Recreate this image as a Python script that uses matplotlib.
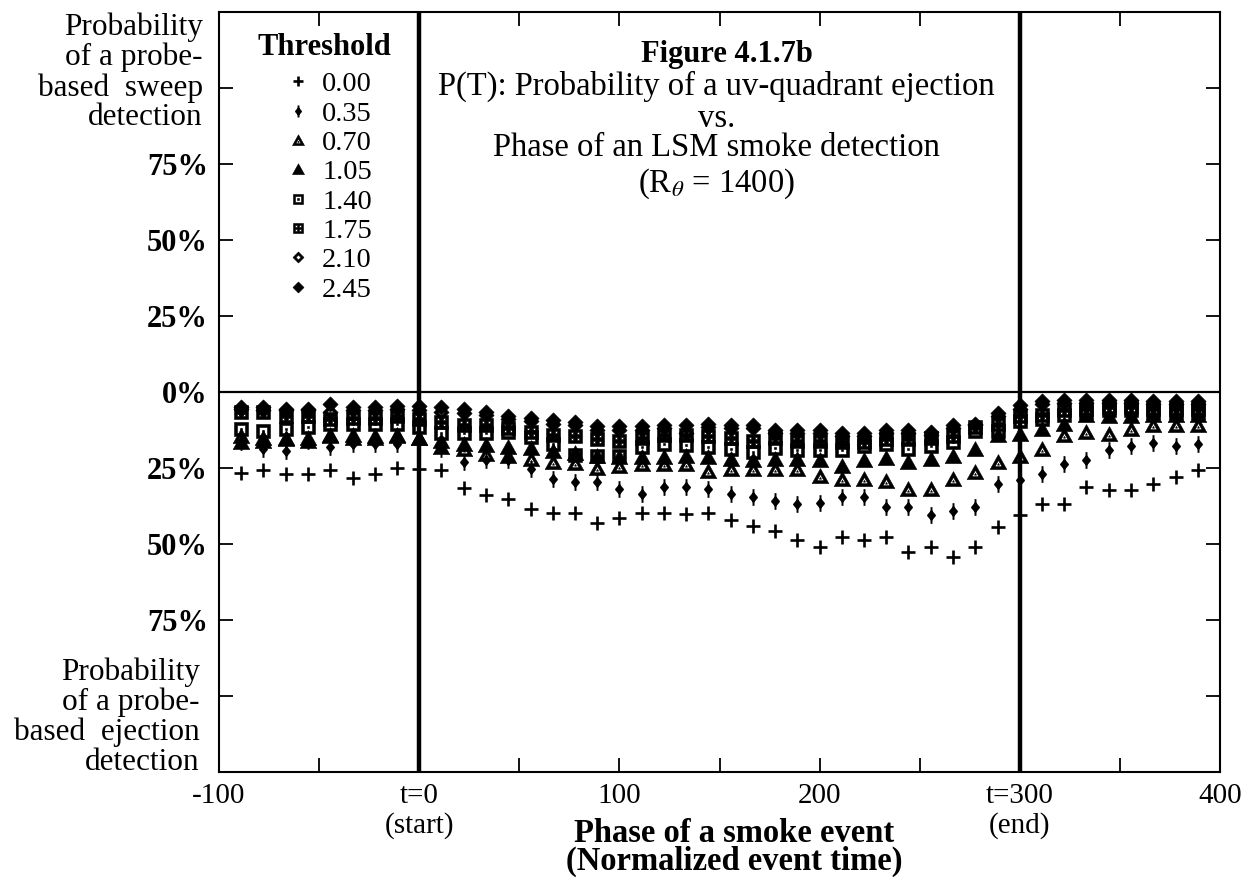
import matplotlib
matplotlib.use("Agg")
import matplotlib.pyplot as plt
from matplotlib.path import Path

plt.rcParams['font.family'] = ['Liberation Serif', 'DejaVu Serif']
plt.rcParams['mathtext.fontset'] = 'stix'

# normalized event time of each sample column
phase = [-88.9, -77.8, -66.7, -55.6, -44.4, -33.3, -22.2, -11.1, 0.0, 11.1,
         22.2, 33.3, 44.4, 55.6, 66.7, 77.8, 88.9, 100.0, 111.1, 122.2,
         133.3, 144.4, 155.6, 166.7, 177.8, 188.9, 200.0, 211.1, 222.2, 233.3,
         244.4, 255.6, 266.7, 277.8, 288.9, 300.0, 311.1, 322.2, 333.3, 344.4,
         355.6, 366.7, 377.8, 388.9]

# probability (%) - negative side = ejection detection
p000 = [-26.7, -25.8, -26.9, -26.9, -25.6, -28.2, -27.1, -24.9, -25.3, -25.8,
        -31.5, -33.8, -35.1, -38.4, -39.9, -39.9, -43.1, -41.5, -39.9, -39.9,
        -40.1, -39.9, -42.0, -44.2, -45.8, -48.8, -51.0, -47.7, -48.8, -47.7,
        -52.7, -51.0, -54.3, -51.0, -44.5, -40.3, -37.0, -37.0, -31.3, -32.4,
        -32.4, -30.2, -28.0, -25.8]
p035 = [-16.5, -18.7, -19.5, -16.0, -18.1, -17.1, -17.1, -17.1, -16.0, -18.7,
        -23.1, -22.5, -22.5, -25.3, -28.6, -29.7, -29.7, -31.9, -33.5, -31.1,
        -31.1, -31.9, -33.5, -34.4, -35.7, -36.8, -36.6, -34.4, -34.4, -37.9,
        -37.9, -40.3, -39.0, -37.9, -30.4, -28.9, -26.9, -23.6, -22.5, -19.2,
        -17.6, -16.8, -17.6, -17.1]
p070 = [-14.5, -15.0, -15.5, -15.0, -14.5, -14.0, -14.5, -14.0, -15.0, -18.0,
        -18.7, -20.3, -21.2, -22.0, -23.1, -23.5, -24.9, -24.3, -23.6, -23.6,
        -23.6, -26.0, -25.3, -25.3, -25.3, -25.3, -27.5, -28.6, -28.6, -29.3,
        -31.9, -31.9, -28.6, -26.4, -23.1, -20.9, -18.7, -14.0, -13.2, -13.8,
        -12.1, -11.0, -11.0, -11.0]
p105 = [-16.5, -16.0, -15.0, -16.0, -14.0, -15.0, -15.0, -14.5, -15.0, -16.0,
        -17.0, -17.5, -18.0, -18.5, -19.5, -20.0, -21.0, -21.5, -21.5, -21.5,
        -21.0, -21.5, -22.0, -22.5, -22.0, -22.0, -22.5, -24.2, -22.5, -21.6,
        -23.1, -22.0, -20.9, -18.7, -14.0, -13.8, -12.1, -10.4, -7.7, -8.0,
        -8.0, -7.5, -7.5, -7.5]
p140 = [-12.1, -12.7, -12.1, -11.5, -10.5, -10.5, -10.5, -10.5, -11.5, -13.6,
        -13.6, -13.6, -13.0, -14.9, -17.0, -20.7, -21.2, -20.9, -18.1, -17.1,
        -17.5, -18.0, -18.7, -19.8, -18.5, -19.2, -19.2, -19.2, -17.6, -17.1,
        -18.7, -17.6, -16.5, -12.7, -12.7, -9.4, -9.0, -7.5, -6.5, -6.0,
        -6.0, -6.5, -6.5, -6.5]
p175 = [-6.5, -6.5, -8.0, -8.0, -9.0, -8.5, -8.5, -8.0, -9.0, -10.0,
        -11.0, -11.0, -12.0, -13.0, -14.0, -14.5, -15.5, -16.0, -15.0, -14.0,
        -14.0, -14.5, -15.0, -16.0, -15.0, -16.0, -16.0, -16.5, -16.5, -15.5,
        -15.5, -15.0, -14.5, -11.5, -10.5, -8.0, -7.5, -6.0, -5.5, -5.0,
        -5.0, -5.5, -5.5, -5.5]
p210 = [-5.5, -6.0, -6.0, -6.0, -6.6, -6.0, -6.0, -5.5, -6.0, -6.5,
        -7.0, -7.5, -9.0, -9.5, -10.5, -11.0, -12.5, -12.5, -12.5, -12.0,
        -13.5, -11.5, -12.0, -12.0, -13.5, -13.5, -13.5, -14.5, -14.5, -13.5,
        -13.5, -14.0, -12.0, -11.0, -8.0, -5.5, -4.0, -3.5, -3.5, -3.5,
        -3.5, -4.0, -4.0, -4.0]
p245 = [-5.0, -5.0, -5.5, -5.5, -3.9, -5.0, -5.0, -4.5, -4.5, -5.0,
        -5.5, -6.5, -8.0, -8.5, -9.2, -9.9, -11.2, -11.2, -11.2, -11.0,
        -11.0, -10.5, -11.0, -11.0, -12.5, -12.5, -12.5, -13.5, -13.5, -12.5,
        -12.5, -13.0, -11.0, -10.5, -7.0, -4.4, -3.0, -2.5, -2.5, -2.5,
        -2.5, -3.0, -3.0, -3.0]

thresholds = ['0.00', '0.35', '0.70', '1.05', '1.40', '1.75', '2.10', '2.45']
series = [p000, p035, p070, p105, p140, p175, p210, p245]


def make_marker(polys):
    verts, codes = [], []
    for p in polys:
        verts += list(p) + [p[0]]
        codes += [Path.MOVETO] + [Path.LINETO] * (len(p) - 1) + [Path.CLOSEPOLY]
    return Path(verts, codes)


def scaled(poly, k, c=(0, 0), rev=False, shift=(0, 0)):
    pts = [(c[0] + k * (x - c[0]) + shift[0], c[1] + k * (y - c[1]) + shift[1])
           for x, y in poly]
    return pts[::-1] if rev else pts


sq = [(-1, -1), (1, -1), (1, 1), (-1, 1)]
tri = [(-1, -0.85), (1, -0.85), (0, 0.95)]
tri_c = (0, -0.25)
dia = [(0, -1), (1, 0), (0, 1), (-1, 0)]

dagger = Path([(0, -1), (0, 1), (0, 0.5), (0.42, 0), (0, -0.5), (-0.42, 0), (0, 0.5)],
              [Path.MOVETO, Path.LINETO, Path.MOVETO, Path.LINETO, Path.LINETO,
               Path.LINETO, Path.CLOSEPOLY])
open_tri = make_marker([tri, scaled(tri, 0.42, tri_c, True), scaled(tri, 0.12, tri_c)])
fill_tri = make_marker([tri])
open_sq = make_marker([sq, scaled(sq, 0.55, rev=True), scaled(sq, 0.16)])
dot_sq = make_marker([sq] + [scaled(sq, 0.2, rev=True, shift=(cx, cy))
                             for cx in (-0.42, 0.42) for cy in (-0.42, 0.42)])
open_dia = make_marker([dia, scaled(dia, 0.45, rev=True)])
fill_dia = make_marker([dia])

styles = [
    dict(marker='+', ms=10.5, mew=1.9),
    dict(marker=dagger, ms=12, mew=1.4),
    dict(marker=open_tri, ms=12, mew=0.4),
    dict(marker=fill_tri, ms=12, mew=0.4),
    dict(marker=open_sq, ms=10, mew=0.4),
    dict(marker=dot_sq, ms=10, mew=0.4),
    dict(marker=open_dia, ms=11, mew=0.4),
    dict(marker=fill_dia, ms=11, mew=0.4),
]

fig = plt.figure(figsize=(12.51, 8.81), dpi=100)
ax = fig.add_axes([219 / 1251, 1 - 772 / 881, 1001 / 1251, 760 / 881])

for vals, lab, st in zip(series, thresholds, styles):
    ax.plot(phase, vals, linestyle='none', color='black', mfc='black', mec='black',
            label=lab, **st)

ax.axvline(0, color='black', lw=3.2, zorder=1)
ax.axvline(300, color='black', lw=3.2, zorder=1)
ax.axhline(0, color='black', lw=1.6, zorder=1)

ax.set_xlim(-100, 400)
ax.set_ylim(-125, 125)
ax.set_xticks([-100, 0, 100, 200, 300, 400])
ax.set_xticklabels(['-100', 't=0\n(start)', '100', '200', 't=300\n(end)', '400'])
ax.set_xticks([-50, 50, 150, 250, 350], minor=True)
ax.set_yticks([100, 75, 50, 25, 0, -25, -50, -75, -100])
ax.set_yticklabels(['', '75%', '50%', '25%', '0%', '25%', '50%', '75%', ''])
ax.tick_params(axis='both', which='both', direction='in', top=True, right=True,
               length=10, width=1.3)
ax.tick_params(axis='x', labelsize=21, pad=8)
ax.tick_params(axis='y', labelsize=22, pad=8)
for t in ax.get_xticklabels():
    t.set_linespacing(1.15)
for t in ax.get_yticklabels():
    t.set_fontweight('bold')
for s in ax.spines.values():
    s.set_linewidth(1.5)

ax.text(-0.016, 0.999, 'Probability\nof a probe-\nbased  sweep\ndetection',
        transform=ax.transAxes, ha='right', va='top', multialignment='right',
        fontsize=22.5, linespacing=1.03)
ax.text(-0.019, -0.006, 'Probability\nof a probe-\nbased  ejection\ndetection',
        transform=ax.transAxes, ha='right', va='bottom', multialignment='right',
        fontsize=22.5, linespacing=1.03)

ax.text(0.507, 0.934, 'Figure 4.1.7b', transform=ax.transAxes, ha='center',
        va='baseline', fontsize=22, fontweight='bold')
ax.text(0.497, 0.891, 'P(T): Probability of a uv-quadrant ejection',
        transform=ax.transAxes, ha='center', va='baseline', fontsize=23.5)
ax.text(0.497, 0.849, 'vs.', transform=ax.transAxes, ha='center',
        va='baseline', fontsize=23.5)
ax.text(0.497, 0.811, 'Phase of an LSM smoke detection', transform=ax.transAxes,
        ha='center', va='baseline', fontsize=23.5)
ax.text(0.497, 0.763, r'(R$_{\theta}$ = 1400)', transform=ax.transAxes,
        ha='center', va='baseline', fontsize=23.5)

ax.text(0.515, -0.092, 'Phase of a smoke event', transform=ax.transAxes,
        ha='center', va='baseline', fontsize=23.5, fontweight='bold')
ax.text(0.515, -0.129, '(Normalized event time)', transform=ax.transAxes,
        ha='center', va='baseline', fontsize=23.5, fontweight='bold')

# legend: bold heading, then marker rows
ax.text(0.105, 0.944, 'Threshold', transform=ax.transAxes, ha='center',
        va='baseline', fontsize=22, fontweight='bold')
leg = ax.legend(loc='upper left', bbox_to_anchor=(0.066, 0.922),
                frameon=False, fontsize=20.5, handlelength=0.9, handletextpad=0.4,
                labelspacing=0.12, borderpad=0, borderaxespad=0, markerscale=0.72)

fig.savefig('out.png', dpi=100)
